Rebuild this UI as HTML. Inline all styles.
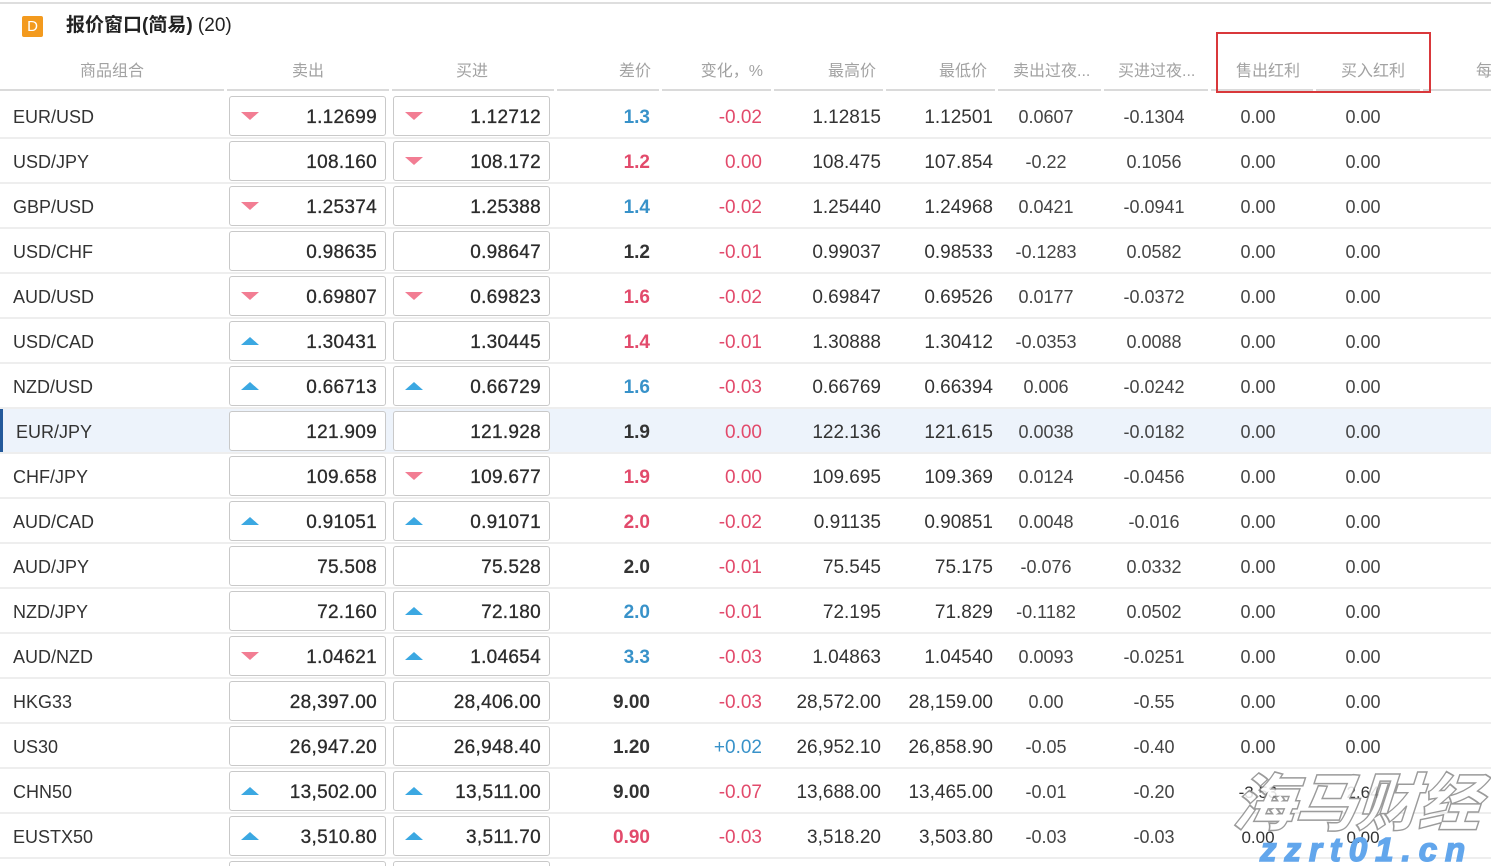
<!DOCTYPE html>
<html><head><meta charset="utf-8">
<style>
*{margin:0;padding:0;box-sizing:border-box}
html,body{width:1491px;height:866px;overflow:hidden;background:#fff;font-family:"Liberation Sans","Noto Sans CJK SC",sans-serif;color:#333}
#w{position:relative;width:1491px;height:866px;overflow:hidden}
.topline{position:absolute;left:0;top:2px;width:1491px;height:2px;background:#dedede}
.icon{position:absolute;left:22px;top:16px;width:21px;height:21px;background:#f39a1e;border-radius:2px;color:#fff;font-size:15px;line-height:21px;text-align:center}
.title{position:absolute;left:66px;top:13px;font-size:19px;line-height:26px;color:#222;white-space:nowrap}
.title b{font-weight:bold}
.h{position:absolute;top:60px;line-height:24px;font-size:16px;color:#a2a2a2;white-space:nowrap}
.hc{text-align:center}
.hr{text-align:right}
.hl{position:absolute;top:89px;height:2px;background:#dadada}
.red{position:absolute;left:1216px;top:32px;width:215px;height:61px;border:2px solid #d9383b}
.r{position:absolute;left:0;width:1491px;height:45px}
.r:after{content:"";position:absolute;left:0;top:43px;width:1491px;height:2px;background:#eeeeee}
.r.hlt{background:#edf3fb}
.r.hlt:before{content:"";position:absolute;left:0;top:0;width:3px;height:45px;background:#23599b}
.n{position:absolute;left:13px;top:0;line-height:47px;font-size:18px;color:#333;white-space:nowrap}
.b{position:absolute;top:2px;height:40px;width:157px;border:1px solid #c9c9c9;border-radius:3px;background:#fff;z-index:1}
.s{left:229px}.y{left:393px}
.b span{position:absolute;right:8px;top:0;line-height:41px;font-size:19px;color:#2b2b2b;-webkit-text-stroke:0.3px #2b2b2b;white-space:nowrap;letter-spacing:0.3px}
.t{position:absolute;left:11px;top:15px;width:0;height:0;border-left:9px solid transparent;border-right:9px solid transparent}
.t.d{border-top:8px solid #f27d93}
.t.u{border-bottom:8px solid #3ba8e2}
.c{position:absolute;top:0;line-height:47px;white-space:nowrap}
.sp{left:540px;width:110px;text-align:right;font-size:19px;font-weight:bold;color:#333}
.ch{left:652px;width:110px;text-align:right;font-size:19px}
.hi{left:771px;width:110px;text-align:right;font-size:19px;color:#333}
.lo{left:883px;width:110px;text-align:right;font-size:19px;color:#333}
.os{left:996px;width:100px;text-align:center;font-size:18px;color:#444}
.ob{left:1104px;width:100px;text-align:center;font-size:18px;color:#444}
.ds{left:1208px;width:100px;text-align:center;font-size:18px;color:#444}
.db{left:1313px;width:100px;text-align:center;font-size:18px;color:#444}
.bl{color:#3892c9}
.rd{color:#e24a6b}
.bk{color:#333}
.wm1{position:absolute;left:1240px;top:758px;font-family:"Noto Sans CJK SC","WenQuanYi Zen Hei",sans-serif;font-weight:900;font-size:62px;line-height:80px;color:#fff;-webkit-text-stroke:1.5px #8a8a8a;transform:skewX(-18deg);white-space:nowrap;z-index:5;opacity:0.85}
.wm2{position:absolute;left:1260px;top:833px;font-family:"Liberation Sans",sans-serif;font-weight:bold;font-style:italic;font-size:33px;line-height:34px;color:#62a6ec;-webkit-text-stroke:1.5px #62a6ec;letter-spacing:8px;white-space:nowrap;z-index:5}
</style></head><body><div id="w">
<div class="topline"></div>
<div class="icon">D</div>
<div class="title"><b>报价窗口(简易)</b> (20)</div>

<div class="h hc" style="left:62px;width:100px">商品组合</div>
<div class="h hc" style="left:258px;width:100px">卖出</div>
<div class="h hc" style="left:422px;width:100px">买进</div>
<div class="h hr" style="left:551px;width:100px">差价</div>
<div class="h hr" style="left:663px;width:100px">变化，%</div>
<div class="h hr" style="left:776px;width:100px">最高价</div>
<div class="h hr" style="left:887px;width:100px">最低价</div>
<div class="h" style="left:1013px">卖出过夜...</div>
<div class="h" style="left:1118px">买进过夜...</div>
<div class="h" style="left:1236px">售出红利</div>
<div class="h" style="left:1341px">买入红利</div>
<div class="h" style="left:1476px">每</div>

<div class="hl" style="left:0;width:224px"></div>
<div class="hl" style="left:227px;width:162px"></div>
<div class="hl" style="left:392px;width:162px"></div>
<div class="hl" style="left:557px;width:102px"></div>
<div class="hl" style="left:662px;width:109px"></div>
<div class="hl" style="left:774px;width:109px"></div>
<div class="hl" style="left:886px;width:109px"></div>
<div class="hl" style="left:998px;width:103px"></div>
<div class="hl" style="left:1104px;width:104px"></div>
<div class="hl" style="left:1211px;width:102px"></div>
<div class="hl" style="left:1316px;width:104px"></div>
<div class="hl" style="left:1423px;width:68px"></div>

<div class="red"></div>

<div class="r" style="top:94px"><div class="n">EUR/USD</div>
<div class="b s"><i class="t d"></i><span>1.12699</span></div><div class="b y"><i class="t d"></i><span>1.12712</span></div>
<div class="c sp bl">1.3</div><div class="c ch rd">-0.02</div><div class="c hi">1.12815</div><div class="c lo">1.12501</div><div class="c os">0.0607</div><div class="c ob">-0.1304</div><div class="c ds">0.00</div><div class="c db">0.00</div></div>

<div class="r" style="top:139px"><div class="n">USD/JPY</div>
<div class="b s"><span>108.160</span></div><div class="b y"><i class="t d"></i><span>108.172</span></div>
<div class="c sp rd">1.2</div><div class="c ch rd">0.00</div><div class="c hi">108.475</div><div class="c lo">107.854</div><div class="c os">-0.22</div><div class="c ob">0.1056</div><div class="c ds">0.00</div><div class="c db">0.00</div></div>

<div class="r" style="top:184px"><div class="n">GBP/USD</div>
<div class="b s"><i class="t d"></i><span>1.25374</span></div><div class="b y"><span>1.25388</span></div>
<div class="c sp bl">1.4</div><div class="c ch rd">-0.02</div><div class="c hi">1.25440</div><div class="c lo">1.24968</div><div class="c os">0.0421</div><div class="c ob">-0.0941</div><div class="c ds">0.00</div><div class="c db">0.00</div></div>

<div class="r" style="top:229px"><div class="n">USD/CHF</div>
<div class="b s"><span>0.98635</span></div><div class="b y"><span>0.98647</span></div>
<div class="c sp bk">1.2</div><div class="c ch rd">-0.01</div><div class="c hi">0.99037</div><div class="c lo">0.98533</div><div class="c os">-0.1283</div><div class="c ob">0.0582</div><div class="c ds">0.00</div><div class="c db">0.00</div></div>

<div class="r" style="top:274px"><div class="n">AUD/USD</div>
<div class="b s"><i class="t d"></i><span>0.69807</span></div><div class="b y"><i class="t d"></i><span>0.69823</span></div>
<div class="c sp rd">1.6</div><div class="c ch rd">-0.02</div><div class="c hi">0.69847</div><div class="c lo">0.69526</div><div class="c os">0.0177</div><div class="c ob">-0.0372</div><div class="c ds">0.00</div><div class="c db">0.00</div></div>

<div class="r" style="top:319px"><div class="n">USD/CAD</div>
<div class="b s"><i class="t u"></i><span>1.30431</span></div><div class="b y"><span>1.30445</span></div>
<div class="c sp rd">1.4</div><div class="c ch rd">-0.01</div><div class="c hi">1.30888</div><div class="c lo">1.30412</div><div class="c os">-0.0353</div><div class="c ob">0.0088</div><div class="c ds">0.00</div><div class="c db">0.00</div></div>

<div class="r" style="top:364px"><div class="n">NZD/USD</div>
<div class="b s"><i class="t u"></i><span>0.66713</span></div><div class="b y"><i class="t u"></i><span>0.66729</span></div>
<div class="c sp bl">1.6</div><div class="c ch rd">-0.03</div><div class="c hi">0.66769</div><div class="c lo">0.66394</div><div class="c os">0.006</div><div class="c ob">-0.0242</div><div class="c ds">0.00</div><div class="c db">0.00</div></div>

<div class="r hlt" style="top:409px"><div class="n" style="left:16px">EUR/JPY</div>
<div class="b s"><span>121.909</span></div><div class="b y"><span>121.928</span></div>
<div class="c sp bk">1.9</div><div class="c ch rd">0.00</div><div class="c hi">122.136</div><div class="c lo">121.615</div><div class="c os">0.0038</div><div class="c ob">-0.0182</div><div class="c ds">0.00</div><div class="c db">0.00</div></div>

<div class="r" style="top:454px"><div class="n">CHF/JPY</div>
<div class="b s"><span>109.658</span></div><div class="b y"><i class="t d"></i><span>109.677</span></div>
<div class="c sp rd">1.9</div><div class="c ch rd">0.00</div><div class="c hi">109.695</div><div class="c lo">109.369</div><div class="c os">0.0124</div><div class="c ob">-0.0456</div><div class="c ds">0.00</div><div class="c db">0.00</div></div>

<div class="r" style="top:499px"><div class="n">AUD/CAD</div>
<div class="b s"><i class="t u"></i><span>0.91051</span></div><div class="b y"><i class="t u"></i><span>0.91071</span></div>
<div class="c sp rd">2.0</div><div class="c ch rd">-0.02</div><div class="c hi">0.91135</div><div class="c lo">0.90851</div><div class="c os">0.0048</div><div class="c ob">-0.016</div><div class="c ds">0.00</div><div class="c db">0.00</div></div>

<div class="r" style="top:544px"><div class="n">AUD/JPY</div>
<div class="b s"><span>75.508</span></div><div class="b y"><span>75.528</span></div>
<div class="c sp bk">2.0</div><div class="c ch rd">-0.01</div><div class="c hi">75.545</div><div class="c lo">75.175</div><div class="c os">-0.076</div><div class="c ob">0.0332</div><div class="c ds">0.00</div><div class="c db">0.00</div></div>

<div class="r" style="top:589px"><div class="n">NZD/JPY</div>
<div class="b s"><span>72.160</span></div><div class="b y"><i class="t u"></i><span>72.180</span></div>
<div class="c sp bl">2.0</div><div class="c ch rd">-0.01</div><div class="c hi">72.195</div><div class="c lo">71.829</div><div class="c os">-0.1182</div><div class="c ob">0.0502</div><div class="c ds">0.00</div><div class="c db">0.00</div></div>

<div class="r" style="top:634px"><div class="n">AUD/NZD</div>
<div class="b s"><i class="t d"></i><span>1.04621</span></div><div class="b y"><i class="t u"></i><span>1.04654</span></div>
<div class="c sp bl">3.3</div><div class="c ch rd">-0.03</div><div class="c hi">1.04863</div><div class="c lo">1.04540</div><div class="c os">0.0093</div><div class="c ob">-0.0251</div><div class="c ds">0.00</div><div class="c db">0.00</div></div>

<div class="r" style="top:679px"><div class="n">HKG33</div>
<div class="b s"><span>28,397.00</span></div><div class="b y"><span>28,406.00</span></div>
<div class="c sp bk">9.00</div><div class="c ch rd">-0.03</div><div class="c hi">28,572.00</div><div class="c lo">28,159.00</div><div class="c os">0.00</div><div class="c ob">-0.55</div><div class="c ds">0.00</div><div class="c db">0.00</div></div>

<div class="r" style="top:724px"><div class="n">US30</div>
<div class="b s"><span>26,947.20</span></div><div class="b y"><span>26,948.40</span></div>
<div class="c sp bk">1.20</div><div class="c ch bl">+0.02</div><div class="c hi">26,952.10</div><div class="c lo">26,858.90</div><div class="c os">-0.05</div><div class="c ob">-0.40</div><div class="c ds">0.00</div><div class="c db">0.00</div></div>

<div class="r" style="top:769px"><div class="n">CHN50</div>
<div class="b s"><i class="t u"></i><span>13,502.00</span></div><div class="b y"><i class="t u"></i><span>13,511.00</span></div>
<div class="c sp bk">9.00</div><div class="c ch rd">-0.07</div><div class="c hi">13,688.00</div><div class="c lo">13,465.00</div><div class="c os">-0.01</div><div class="c ob">-0.20</div><div class="c ds" style="font-size:17px;color:#333">-3.53</div><div class="c db" style="font-size:17px;color:#333">2.64</div></div>

<div class="r" style="top:814px"><div class="n">EUSTX50</div>
<div class="b s"><i class="t u"></i><span>3,510.80</span></div><div class="b y"><i class="t u"></i><span>3,511.70</span></div>
<div class="c sp rd">0.90</div><div class="c ch rd">-0.03</div><div class="c hi">3,518.20</div><div class="c lo">3,503.80</div><div class="c os">-0.03</div><div class="c ob">-0.03</div><div class="c ds" style="font-size:17px;color:#333">0.00</div><div class="c db" style="font-size:17px;color:#333">0.00</div></div>

<div style="position:absolute;left:0;top:859px;width:1491px;height:7px;overflow:hidden"><div class="b s"></div><div class="b y"></div></div>

<div class="wm1">海马财经</div>
<div class="wm2">zzrt01.cn</div>
</div></body></html>
